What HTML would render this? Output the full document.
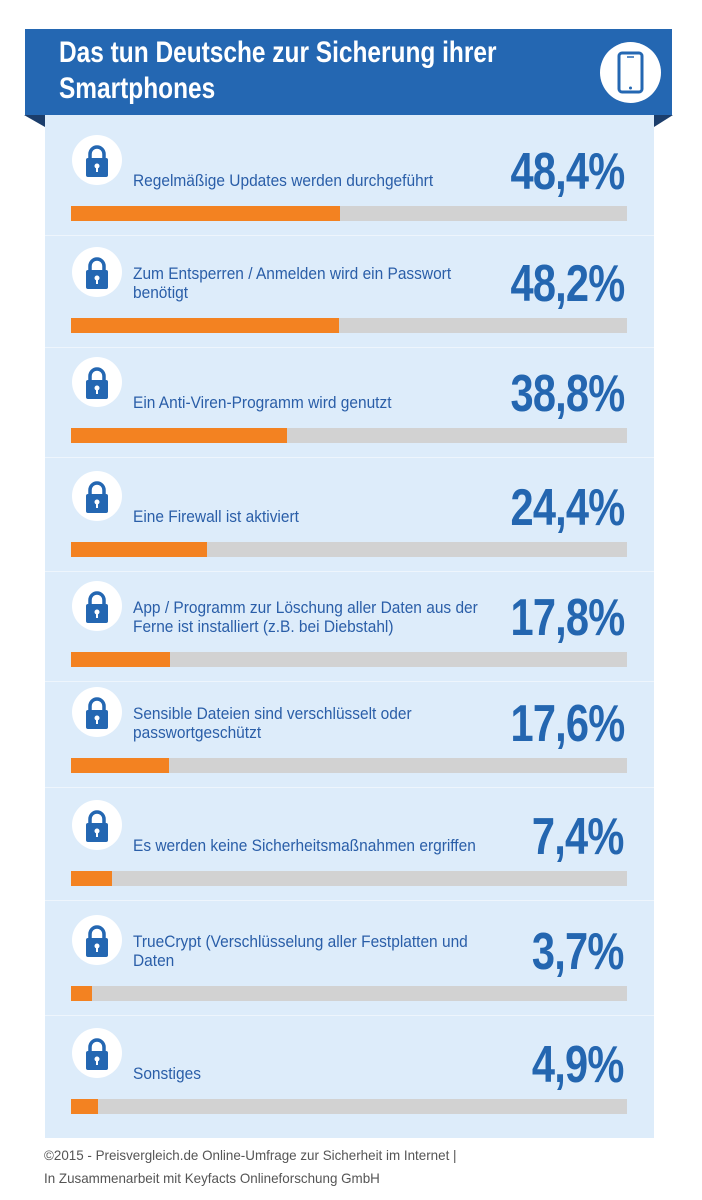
<!DOCTYPE html>
<html><head><meta charset="utf-8"><style>
body{margin:0;width:702px;height:1200px;background:#fff;position:relative;overflow:hidden;font-family:"Liberation Sans",sans-serif}
.abs{position:absolute}
#header{left:25px;top:29px;width:647px;height:86px;background:#2467b2}
#title{left:59px;top:35px;color:#fff;font-size:30px;font-weight:bold;line-height:36px;transform:scaleX(0.815);transform-origin:left top;white-space:nowrap}
#panel{left:45px;top:115px;width:609px;height:1023px;background:#ddecfa}
.icon{width:50px;height:50px;border-radius:50%;background:#fff}
.label{color:#2a5ea8;font-size:17px;line-height:19px;left:133px;width:388px;transform:scaleX(0.91);transform-origin:left top}
.pct{color:#2466b0;font-size:52px;font-weight:bold;right:78px;text-align:right;line-height:52px;letter-spacing:-1px;transform:scaleX(0.8);transform-origin:right top;white-space:nowrap}
.track{left:71px;width:556px;height:15px;background:#d2d2d2}
.fill{position:absolute;left:0;top:0;height:15px;background:#f38221}
.sep{left:45px;width:609px;height:1px;background:#eef5fc}
.foot{left:44px;color:#555;font-size:14px;transform:scaleX(0.957);transform-origin:left top;white-space:nowrap}
</style></head><body>
<div id="header" class="abs"></div>
<svg class="abs" style="left:24px;top:115px" width="22" height="13"><polygon points="0,0 21,0 21,12" fill="#1b3d6b"/></svg>
<svg class="abs" style="left:654px;top:115px" width="20" height="13"><polygon points="0,0 19,0 0,12" fill="#1b3d6b"/></svg>
<div id="title" class="abs">Das tun Deutsche zur Sicherung ihrer<br>Smartphones</div>
<div class="abs" style="left:600px;top:42px;width:61px;height:61px;border-radius:50%;background:#fff">
<svg width="61" height="61"><rect x="19" y="11" width="23" height="39" rx="3" fill="none" stroke="#2467b2" stroke-width="3"/><line x1="27" y1="15" x2="34" y2="15" stroke="#2467b2" stroke-width="1.5"/><circle cx="30.5" cy="46" r="1.5" fill="#2467b2"/></svg></div>
<div id="panel" class="abs"></div>
<div id="rows"></div>
<div class="abs foot" style="top:1147px">©2015 - Preisvergleich.de Online-Umfrage zur Sicherheit im Internet |</div>
<div class="abs foot" style="top:1170px">In Zusammenarbeit mit Keyfacts Onlineforschung GmbH</div>
<script>
const categories=["Regelmäßige Updates werden durchgeführt","Zum Entsperren / Anmelden wird ein Passwort benötigt","Ein Anti-Viren-Programm wird genutzt","Eine Firewall ist aktiviert","App / Programm zur Löschung aller Daten aus der Ferne ist installiert (z.B. bei Diebstahl)","Sensible Dateien sind verschlüsselt oder passwortgeschützt","Es werden keine Sicherheitsmaßnahmen ergriffen","TrueCrypt (Verschlüsselung aller Festplatten und Daten","Sonstiges"];
const values=[48.4,48.2,38.8,24.4,17.8,17.6,7.4,3.7,4.9];
const valueLabels=["48,4%","48,2%","38,8%","24,4%","17,8%","17,6%","7,4%","3,7%","4,9%"];
const twoLine=[false,true,false,false,true,true,false,true,false];
const barTops=[206,318,428,542,652,758,871,986,1099];
const trackW=556;
function x(v){return v/100*trackW;}
const root=document.getElementById('rows');
categories.forEach((c,i)=>{
 const b=barTops[i];
 const ic=document.createElement('div');ic.className='abs icon';
 ic.style.left='72px';ic.style.top=(b-71)+'px';
 
 
 ic.innerHTML='<svg width="50" height="50"><path d="M18 24 v-5 a7 7 0 0 1 14 0 v5" fill="none" stroke="#2467b2" stroke-width="3.5"/><rect x="14" y="23" width="22" height="19" rx="2" fill="#2467b2"/><circle cx="25" cy="31" r="2.5" fill="#fff"/><rect x="24" y="31" width="2" height="6" fill="#fff"/></svg>';
 root.appendChild(ic);
 const lb=document.createElement('div');lb.className='abs label';
 lb.style.top=(twoLine[i]?b-54:b-35)+'px';lb.textContent=c;
 
 
 root.appendChild(lb);
 const p=document.createElement('div');p.className='abs pct';
 p.style.top=(b-60)+'px';p.textContent=valueLabels[i];
 
 
 root.appendChild(p);
 const t=document.createElement('div');t.className='abs track';t.style.top=b+'px';
 
 
 const f=document.createElement('div');f.className='fill';f.style.width=x(values[i])+'px';
 
 
 t.appendChild(f);root.appendChild(t);
 if(i<categories.length-1){const s=document.createElement('div');s.className='abs sep';s.style.top=(b+29)+'px';
 
 
 root.appendChild(s);}
});
</script>
</body></html>
